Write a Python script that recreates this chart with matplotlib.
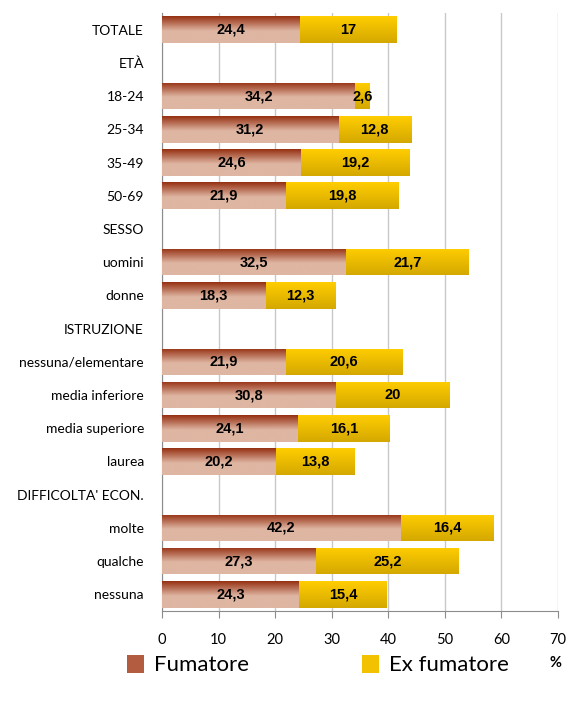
import numpy as np
import matplotlib
matplotlib.use("Agg")
import matplotlib.pyplot as plt
from matplotlib.patches import Patch

plt.rcParams['font.family'] = ['Lato', 'DejaVu Sans']

categories = ["TOTALE", "ETÀ", "18-24", "25-34", "35-49", "50-69", "SESSO",
              "uomini", "donne", "ISTRUZIONE", "nessuna/elementare",
              "media inferiore", "media superiore", "laurea",
              "DIFFICOLTA' ECON.", "molte", "qualche", "nessuna"]
fumatore = [24.4, np.nan, 34.2, 31.2, 24.6, 21.9, np.nan, 32.5, 18.3, np.nan,
            21.9, 30.8, 24.1, 20.2, np.nan, 42.2, 27.3, 24.3]
ex_fumatore = [17, np.nan, 2.6, 12.8, 19.2, 19.8, np.nan, 21.7, 12.3, np.nan,
               20.6, 20, 16.1, 13.8, np.nan, 16.4, 25.2, 15.4]
series_names = ["Fumatore", "Ex fumatore"]
x_ticks = [0, 10, 20, 30, 40, 50, 60, 70]


def gradient(top, bottom, split):
    """Vertical colour ramp: top colour fading into bottom colour by `split`."""
    n = 64
    t = np.linspace(0, 1, n)
    w = np.clip(t / split, 0, 1)[:, None]
    top = np.array(top) / 255.0
    bottom = np.array(bottom) / 255.0
    return (top * (1 - w) + bottom * w)[:, None, :]


grad_fum = gradient((150, 48, 18), (222, 182, 162), 0.55)
grad_ex = gradient((255, 205, 0), (212, 168, 0), 1.0)

fig = plt.figure(figsize=(5.69, 7.01), dpi=100)
ax = fig.add_axes([162 / 569, 1 - 611 / 701, (558 - 162) / 569, (611 - 13) / 701])

y = np.arange(len(categories))
fum = np.nan_to_num(np.array(fumatore, dtype=float))
exf = np.nan_to_num(np.array(ex_fumatore, dtype=float))
h = 0.8

bars_f = ax.barh(y, fum, height=h, color='none', edgecolor='none', zorder=3)
bars_e = ax.barh(y, exf, left=fum, height=h, color='none', edgecolor='none', zorder=3)

for bars, grad in ((bars_f, grad_fum), (bars_e, grad_ex)):
    for b in bars:
        if b.get_width() <= 0:
            continue
        x0, y0 = b.get_x(), b.get_y()
        im = ax.imshow(grad, extent=[x0, x0 + b.get_width(), y0 + b.get_height(), y0],
                       aspect='auto', origin='upper', zorder=3, interpolation='bilinear')
        im.set_clip_path(b)

for i, (a, e) in enumerate(zip(fumatore, ex_fumatore)):
    if np.isnan(a):
        continue
    ax.text(a / 2, i, f"{a:g}".replace('.', ','), ha='center', va='center',
            fontsize=10.5, fontweight='bold', family='Liberation Sans', zorder=4)
    ax.text(a + e / 2, i, f"{e:g}".replace('.', ','), ha='center', va='center',
            fontsize=10.5, fontweight='bold', family='Liberation Sans', zorder=4)

ax.set_xlim(0, 70)
ax.set_ylim(len(categories) - 0.5, -0.5)
ax.set_xticks(x_ticks)
ax.set_yticks(y)
ax.set_yticklabels(categories)
ax.xaxis.grid(True, color='#c8c8c8', linewidth=1, zorder=0)
ax.set_axisbelow(True)
for s in ('top', 'right'):
    ax.spines[s].set_visible(False)
for s in ('left', 'bottom'):
    ax.spines[s].set_color('#8c8c8c')
ax.tick_params(axis='y', length=0, pad=13, labelsize=10)
ax.tick_params(axis='x', length=5, color='#8c8c8c', pad=11, labelsize=10.5)

fig.text(555 / 569, 1 - 663 / 701, "%", ha='center', va='center', fontsize=10.5,
         fontweight='bold')

handles = [Patch(facecolor=(0.70, 0.36, 0.25), edgecolor='none'),
           Patch(facecolor=(0.95, 0.76, 0.0), edgecolor='none')]
fig.legend(handles, series_names, loc='center', ncol=2, frameon=False,
           bbox_to_anchor=(318 / 569, 1 - 665 / 701), fontsize=16,
           handlelength=0.75, handleheight=0.9, handletextpad=0.45,
           columnspacing=5.1)

fig.savefig("out.png", dpi=100)
